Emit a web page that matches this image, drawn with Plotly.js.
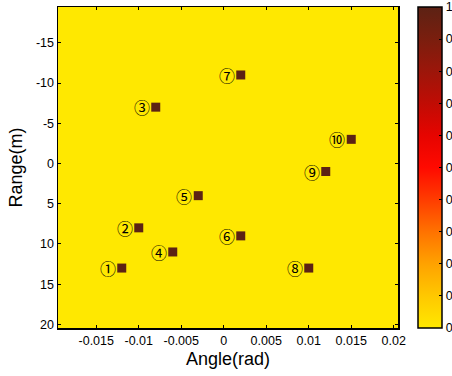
<!DOCTYPE html>
<html>
<head>
<meta charset="utf-8">
<script src="https://cdn.plot.ly/plotly-3.0.1.min.js"></script>
<style>html,body{margin:0;padding:0;background:#fff;overflow:hidden}#chart{width:452px;height:376px}</style>
</head>
<body>
<div id="chart"></div>
<script>
// Target data
const targetLabels = ['①','②','③','④','⑤','⑥','⑦','⑧','⑨','⑩'];
const targetAngles = [-0.012, -0.010, -0.008, -0.006, -0.003, 0.002, 0.002, 0.010, 0.012, 0.015];
const targetRanges = [13, 8, -7, 11, 4, 9, -11, 13, 1, -3];
const targetIntensity = [1, 1, 1, 1, 1, 1, 1, 1, 1, 1];

const xTickVals = [-0.015, -0.01, -0.005, 0, 0.005, 0.01, 0.015, 0.02];
const xTickText = ['-0.015', '-0.01', '-0.005', '0', '0.005', '0.01', '0.015', '0.02'];
const yTickVals = [-15, -10, -5, 0, 5, 10, 15, 20];
const yTickText = ['-15', '-10', '-5', '0', '5', '10', '15', '20'];
const cbTickVals = [0, 0.1, 0.2, 0.3, 0.4, 0.5, 0.6, 0.7, 0.8, 0.9, 1];
const cbTickText = ['0', '0.1', '0.2', '0.3', '0.4', '0.5', '0.6', '0.7', '0.8', '0.9', '1'];

const colorscale = [
  [0.0, '#FFE800'], [0.1, '#FFC800'], [0.2, '#FFA200'], [0.3, '#FF7200'],
  [0.4, '#FF3C00'], [0.5, '#FF0A00'], [0.6, '#E60400'], [0.7, '#C00C04'],
  [0.8, '#9C160A'], [0.9, '#7A1E0E'], [1.0, '#5C2214']
];

const traces = [
  {
    type: 'scatter', mode: 'markers',
    x: targetAngles, y: targetRanges,
    marker: {
      symbol: 'square', size: 9, color: targetIntensity,
      colorscale: colorscale, cmin: 0, cmax: 1, line: {width: 0},
      showscale: true,
      colorbar: {
        x: 1.0588, xanchor: 'left', xref: 'paper', xpad: 0, ypad: 0,
        y: 0.5, yanchor: 'middle', len: 1,
        thickness: 24, thicknessmode: 'pixels', outlinewidth: 1.5, outlinecolor: '#000',
        tickmode: 'array', tickvals: cbTickVals, ticktext: cbTickText,
        ticks: 'inside', ticklen: 3, tickcolor: '#000', tickwidth: 1,
        tickfont: {family: 'Liberation Sans, Arial', size: 12.5, color: '#000'},
        ticklabelpadding: 1
      }
    },
    hoverinfo: 'skip', showlegend: false
  }
];

const annotations = targetLabels.map((t, i) => ({
  x: targetAngles[i], y: targetRanges[i], xref: 'x', yref: 'y',
  text: t, showarrow: false, xanchor: 'right', yanchor: 'middle', xshift: -4,
  font: {family: 'Noto Sans CJK SC', size: 16, color: '#000'}
}));

const layout = {
  width: 452, height: 376,
  margin: {l: 58, r: 54, t: 7, b: 48, pad: 0, autoexpand: false},
  paper_bgcolor: '#fff', plot_bgcolor: '#FFE800',
  font: {family: 'Liberation Sans, Arial', color: '#000'},
  annotations: annotations,
  xaxis: {
    range: [-0.0195, 0.0205], tickmode: 'array', tickvals: xTickVals, ticktext: xTickText,
    ticks: 'inside', ticklen: 3, tickcolor: '#000', mirror: 'ticks', showline: true,
    linecolor: '#000', linewidth: 1.5, showgrid: false, zeroline: false,
    tickfont: {size: 12.5, color: '#000'},
    title: {text: 'Angle(rad)', font: {size: 18, color: '#000'}, standoff: 6}
  },
  yaxis: {
    range: [20.45, -19.45], tickmode: 'array', tickvals: yTickVals, ticktext: yTickText,
    ticks: 'inside', ticklen: 3, tickcolor: '#000', mirror: 'ticks', showline: true,
    linecolor: '#000', linewidth: 1.5, showgrid: false, zeroline: false,
    tickfont: {size: 12.5, color: '#000'},
    title: {text: 'Range(m)', font: {size: 18, color: '#000'}, standoff: 8}
  }
};

Plotly.newPlot('chart', traces, layout, {staticPlot: true, displayModeBar: false});
</script>
</body>
</html>
